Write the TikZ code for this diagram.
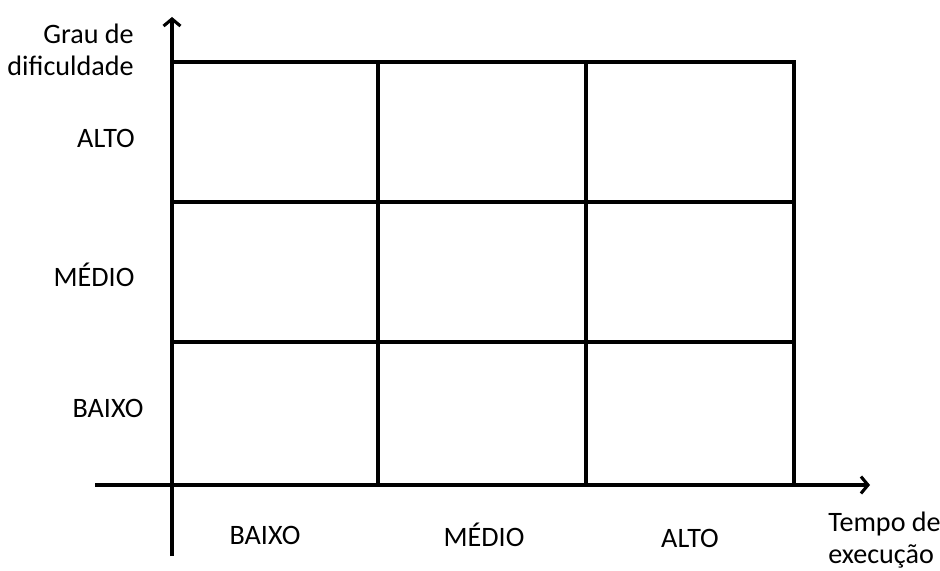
\documentclass[tikz,border=0pt]{standalone}
\usepackage{fontspec}
\setmainfont{Carlito}
\usetikzlibrary{arrows.meta}
\tikzset{
  axis/.style={line width=2.2pt,-{Straight Barb[length=5pt,width=12pt,line width=2.2pt]}},
  gridline/.style={line width=2.2pt,line cap=rect},
  lbl/.style={inner sep=0pt,font=\fontsize{20}{23}\selectfont}
}
\begin{document}
\begin{tikzpicture}[x=0.025cm,y=-0.025cm]
\useasboundingbox (0,0) rectangle (940,571);
% axes
\coordinate (ybot) at (172,556);
\coordinate (ytop) at (172,17);
\coordinate (xleft) at (95,485);
\coordinate (xright) at (870,485);
\draw[axis] (ybot) -- (ytop);
\draw[axis] (xleft) -- (xright);
% grid
\foreach \gx in {378,586,794}
  \draw[gridline] (\gx,62) -- (\gx,485);
\foreach \gy in {62,202,342}
  \draw[gridline] (172,\gy) -- (794,\gy);
% labels
\node[lbl,align=right,anchor=east] (ytitle) at (134,50) {Grau de\\dificuldade};
\node[lbl] (yalto) at (106,138) {ALTO};
\node[lbl] (ymedio) at (94,275) {MÉDIO};
\node[lbl] (ybaixo) at (108,408) {BAIXO};
\node[lbl] (xbaixo) at (265,535) {BAIXO};
\node[lbl] (xmedio) at (484,535) {MÉDIO};
\node[lbl] (xalto) at (690,538) {ALTO};
\node[lbl,align=left,anchor=west] (xtitle) at (828,540) {Tempo de\\execução};
\end{tikzpicture}
\end{document}
